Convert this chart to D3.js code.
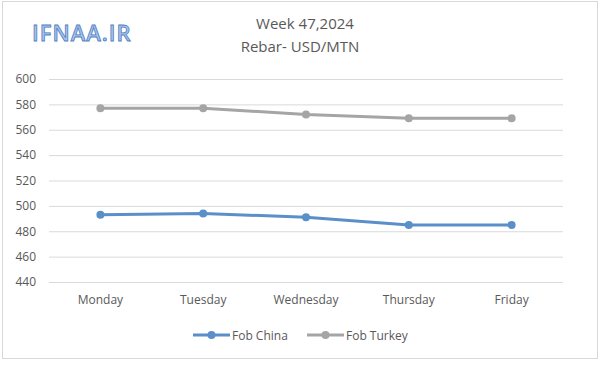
<!DOCTYPE html>
<html><head><meta charset="utf-8">
<script src="https://cdn.jsdelivr.net/npm/d3@7/dist/d3.min.js"></script>
<style>body{margin:0;background:#fff}svg{display:block}</style>
</head><body><svg id="c" width="600" height="366"></svg>
<script>
const categories = ["Monday","Tuesday","Wednesday","Thursday","Friday"];
const fobChina = [493, 494, 491, 485, 485];
const fobTurkey = [577, 577, 572, 569, 569];
const yTicks = [440,460,480,500,520,540,560,580,600];
const seriesNames = ["Fob China","Fob Turkey"];
const seriesColors = ["#5b8fc9","#a5a5a5"];

const svg = d3.select("#c");
const font = "'Open Sans', 'Liberation Sans', sans-serif";
svg.append("rect").attr("x",2.5).attr("y",1.5).attr("width",595).attr("height",357)
  .attr("fill","#fff").attr("stroke","#d9d9d9");

const x = d3.scaleBand().domain(categories).range([49,563]);
const y = d3.scaleLinear().domain([440,600]).range([282,79]);

svg.append("text").attr("x",32).attr("y",41).text("IFNAA.IR")
  .attr("font-family",font).attr("font-size",22).attr("font-weight",600)
  .attr("fill","#a8c3ea").attr("stroke","#4f7fc4").attr("stroke-width",0.8).attr("letter-spacing",1);

svg.append("text").attr("x",305).attr("y",29).attr("text-anchor","middle")
  .attr("font-family",font).attr("font-size",15).attr("fill","#595959").text("Week 47,2024");
svg.append("text").attr("x",300).attr("y",52).attr("text-anchor","middle")
  .attr("font-family",font).attr("font-size",15).attr("fill","#595959").text("Rebar- USD/MTN");

const ya = svg.append("g").attr("transform","translate(49,0)")
  .call(d3.axisLeft(y).tickValues(yTicks).tickSize(-514).tickPadding(13));
ya.select(".domain").remove();
ya.selectAll("line").attr("stroke","#d9d9d9");
ya.selectAll("text").attr("font-family",font).attr("font-size",12).attr("fill","#595959");

const xa = svg.append("g").attr("transform","translate(0,282)")
  .call(d3.axisBottom(x).tickSize(0).tickPadding(13));
xa.select(".domain").remove();
xa.selectAll("text").attr("font-family",font).attr("font-size",12).attr("fill","#595959");

const cx = d => x(d) + x.bandwidth()/2;
[fobChina, fobTurkey].forEach((vals,i)=>{
  const data = categories.map((c,j)=>({c, v:vals[j]}));
  svg.append("path").datum(data)
    .attr("fill","none").attr("stroke",seriesColors[i]).attr("stroke-width",3)
    .attr("d", d3.line().x(d=>cx(d.c)).y(d=>y(d.v)));
  svg.selectAll(null).data(data).enter().append("circle")
    .attr("cx",d=>cx(d.c)).attr("cy",d=>y(d.v)).attr("r",4).attr("fill",seriesColors[i]);
});

const legX = [193, 307];
seriesNames.forEach((n,i)=>{
  const g = svg.append("g").attr("transform",`translate(${legX[i]},335)`);
  g.append("line").attr("x1",0).attr("x2",37).attr("stroke",seriesColors[i]).attr("stroke-width",3);
  g.append("circle").attr("cx",18.5).attr("r",4).attr("fill",seriesColors[i]);
  g.append("text").attr("x",39).attr("y",4.5).attr("font-family",font).attr("font-size",12)
    .attr("fill","#595959").text(n);
});
</script></body></html>
